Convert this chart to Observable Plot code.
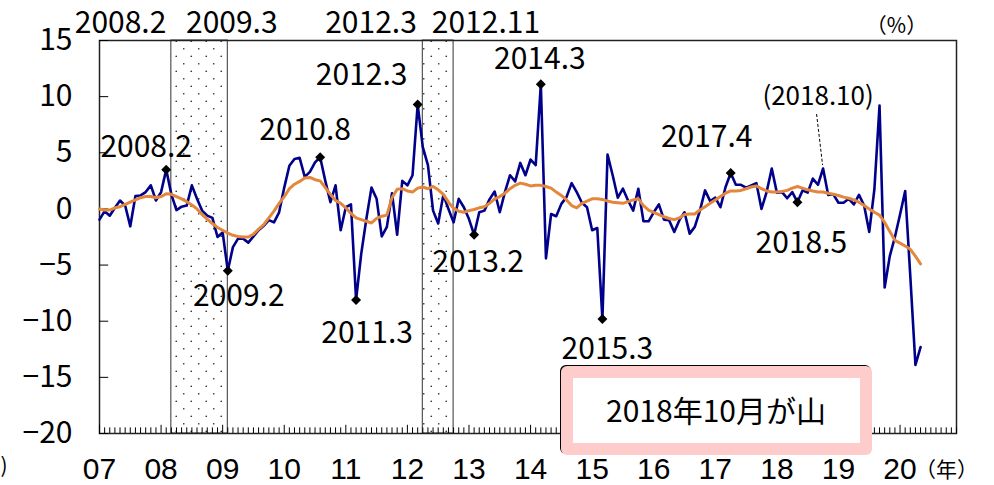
<!DOCTYPE html>
<html><head><meta charset="utf-8">
<script src="https://cdn.jsdelivr.net/npm/d3@7"></script>
<script src="https://cdn.jsdelivr.net/npm/@observablehq/plot@0.6"></script>
<style>html,body{margin:0;padding:0;background:#fff;}</style>
</head><body><div id="chart"></div>
<script>
// ---- data ----
const startYear = 2007;
// monthly series (Jan 2007 .. May 2020)
const monthly = [
 -0.95,-0.2,-0.6,0.1,0.75,0.3,-1.55,1.15,1.2,1.5,2.1,0.75,
 1.5,3.5,1.3,-0.1,0.2,0.3,2.1,0.9,-0.15,-0.6,-0.8,-2.5,
 -2.1,-5.5,-3.4,-2.65,-2.65,-3.0,-2.45,-1.9,-1.5,-1.0,-1.2,-0.3,
 1.9,3.85,4.45,4.55,2.85,3.3,4.15,4.6,2.5,0.6,2.1,-1.9,
 0.15,0.4,-8.1,-4.0,-0.9,1.9,0.9,-2.45,-1.6,1.4,-2.3,2.5,
 2.1,3.0,9.3,5.5,3.9,-0.15,-1.3,1.25,0.0,-1.2,0.9,0.15,
 -0.9,-2.3,-0.3,-0.15,0.85,1.55,-0.3,1.5,3.0,2.45,4.1,3.0,
 4.4,3.9,11.1,-4.4,-0.45,-0.65,0.45,1.05,2.3,1.5,0.55,0.15,
 -1.9,-1.7,-9.8,4.85,3.0,1.0,1.8,0.75,-0.15,1.8,-1.1,-1.1,
 -0.3,0.4,-0.95,-1.0,-2.05,-1.0,-0.3,-2.2,-1.6,-0.15,1.65,0.7,
 1.0,0.15,1.95,3.2,2.15,2.15,1.9,2.1,2.3,0.0,1.5,3.6,
 1.45,1.5,0.95,1.5,0.6,1.65,1.45,2.7,2.15,3.6,1.25,1.3,
 0.55,0.55,0.9,0.4,1.25,0.3,-2.05,1.75,9.2,-7.0,-4.2,-2.5,
 -0.5,1.6,-6.0,-13.9,-12.3
];
// moving-average series
const average = [
 0.0,-0.1,-0.1,0.1,0.2,0.4,0.6,0.8,1.0,1.1,1.1,1.0,
 1.1,1.35,1.3,1.1,0.9,0.65,0.35,0.0,-0.5,-0.9,-1.3,-1.65,
 -1.9,-2.15,-2.35,-2.45,-2.5,-2.5,-2.25,-1.8,-1.4,-0.8,-0.2,0.5,
 1.1,1.8,2.2,2.45,2.75,2.8,2.6,2.5,1.9,1.3,0.75,0.5,
 0.1,-0.4,-0.8,-0.95,-1.1,-1.25,-0.85,-0.65,-0.55,1.0,1.75,1.8,
 1.6,1.5,1.85,1.95,1.8,2.0,1.7,1.3,0.6,0.05,-0.2,-0.3,
 -0.15,-0.05,0.1,0.2,0.5,0.9,1.1,1.4,1.8,2.1,2.3,2.2,
 2.05,2.1,2.1,2.0,1.85,1.5,1.2,0.8,0.3,0.1,0.5,0.7,
 0.9,0.9,0.85,0.7,0.6,0.55,0.5,0.65,0.8,0.9,0.3,-0.1,
 -0.3,-0.5,-0.7,-0.85,-0.95,-0.8,-0.5,-0.45,-0.45,-0.1,0.2,0.5,
 0.8,1.1,1.4,1.6,1.6,1.65,1.8,1.95,2.05,1.8,1.6,1.5,
 1.5,1.55,1.65,1.85,2.0,1.85,1.7,1.6,1.5,1.5,1.4,1.3,
 1.2,1.05,0.95,0.8,0.6,0.3,0.0,-0.3,-0.55,-1.2,-2.0,-2.8,
 -3.05,-3.3,-3.6,-4.2,-4.9
];
const markerDates = ["2008.2","2009.2","2010.8","2011.3","2012.3","2013.2","2014.3","2015.3","2017.4","2018.5"];
const peakDates   = ["2008.2","2012.3"];
const troughDates = ["2009.3","2012.11"];
const noteDate = "2018.10";
const yearLabels = ["07","08","09","10","11","12","13","14","15","16","17","18","19","20"];
const yTicks = [15,10,5,0,-5,-10,-15,-20];
const boxText = "2018年10月が山";
const unitY = "（%）";
const unitX = "（年）";

// ---- helpers ----
const toIdx = s => { const [y, m] = s.split(".").map(Number); return (y - startYear) * 12 + m - 1; };
const fmt = d => d < 0 ? "\u2212" + (-d) : String(d);
const series = monthly.map((v, i) => ({i, v}));
const avgSeries = average.map((v, i) => ({i, v}));
const markers = markerDates.map(s => ({i: toIdx(s), v: monthly[toIdx(s)], label: s}));
const bands = peakDates.map((p, k) => ({a: toIdx(p) + 1, b: toIdx(troughDates[k]) - 1, peak: p, trough: troughDates[k]}));
const years = yearLabels.map((t, k) => ({i: k * 12, t}));
const months = d3.range(0, 168);
const noteIdx = toIdx(noteDate);
const note = [{i: noteIdx, v: monthly[noteIdx], label: "(" + noteDate + ")"}];

// label layout (offsets in px)
const labelOffsets = [[-20,-22],[11,26],[-15,-27],[11,34],[-56,-29],[4,28],[-1,-25],[5,30],[-24,-36],[4,41]];

const FONT = "'Noto Sans CJK JP', 'Noto Sans', sans-serif";
const LATIN = "'Liberation Sans', Arial, sans-serif";
const NAVY = "#00008a", ORANGE = "#e3873d";

const markLabels = markers.map((m, k) => Plot.text([m], {
  x: "i", y: "v", text: "label", dx: labelOffsets[k][0], dy: labelOffsets[k][1],
  lineAnchor: "middle", fontSize: 30, fill: "#000"
}));

const topLabels = [
  Plot.text([bands[0]], {x: "a", text: "peak", frameAnchor: "top", textAnchor: "end", dx: -5, dy: -17, lineAnchor: "middle"}),
  Plot.text([bands[0]], {x: "b", text: "trough", frameAnchor: "top", textAnchor: "middle", dx: 4, dy: -17, lineAnchor: "middle"}),
  Plot.text([bands[1]], {x: "a", text: "peak", frameAnchor: "top", textAnchor: "end", dx: -6, dy: -17, lineAnchor: "middle"}),
  Plot.text([bands[1]], {x: "a", text: "trough", frameAnchor: "top", textAnchor: "start", dx: 9, dy: -17, lineAnchor: "middle"})
];

const chart = Plot.plot({
  width: 994, height: 485,
  marginLeft: 99, marginRight: 38, marginTop: 40, marginBottom: 52,
  x: {domain: [0, 167], axis: null},
  y: {domain: [-20, 15], axis: null},
  style: {fontFamily: FONT, fontSize: "30px", background: "#fff", overflow: "visible", color: "#000"},
  marks: [
    Plot.rect(bands, {x1: "a", x2: "b", y1: -20, y2: 15, fill: "url(#dots)", stroke: "#333", strokeWidth: 1}),
    Plot.frame({stroke: "#222", strokeWidth: 1.5}),
    Plot.ruleY(yTicks, {y: d => d, x1: 0, x2: 1.8, stroke: "#000", strokeWidth: 1}),
    Plot.ruleX(months, {x: d => d, y1: -20, y2: d => d % 12 === 0 ? -19.27 : -19.5, stroke: "#000", strokeWidth: 1}),
    Plot.line(series, {x: "i", y: "v", stroke: NAVY, strokeWidth: 2.6}),
    Plot.line(avgSeries, {x: "i", y: "v", stroke: ORANGE, strokeWidth: 3}),
    Plot.dot(markers, {x: "i", y: "v", symbol: "diamond2", r: 4.5, fill: "#000", stroke: "none"}),
    ...markLabels,
    ...topLabels,
    Plot.text(note, {x: "i", y: "v", text: "label", dx: -5, dy: -72, lineAnchor: "middle", fontSize: 26}),
    Plot.text(yTicks, {y: d => d, text: fmt, frameAnchor: "left", textAnchor: "end", dx: -27, lineAnchor: "middle"}),
    Plot.text(years, {x: "i", text: "t", frameAnchor: "bottom", dy: 35.5, lineAnchor: "middle", fontFamily: LATIN, fontSize: 30}),
    Plot.text([unitX], {x: 156, text: d => d, frameAnchor: "bottom", textAnchor: "start", dx: 15, dy: 37, lineAnchor: "middle", fontSize: 21}),
    Plot.text([unitY], {frameAnchor: "top-right", textAnchor: "middle", dx: -60, dy: -14, lineAnchor: "middle", fontSize: 21}),
    Plot.text([")"], {frameAnchor: "bottom-left", textAnchor: "start", dx: -99, dy: 33, lineAnchor: "middle", fontSize: 21})
  ]
});
document.getElementById("chart").appendChild(chart);

const svg = d3.select(chart);
const defs = svg.insert("defs", ":first-child");
const pat = defs.append("pattern").attr("id", "dots").attr("patternUnits", "userSpaceOnUse")
  .attr("width", 15).attr("height", 15);
pat.append("circle").attr("cx", 3.75).attr("cy", 3.75).attr("r", 0.85).attr("fill", "#333");
pat.append("circle").attr("cx", 11.25).attr("cy", 11.25).attr("r", 0.85).attr("fill", "#333");

// leader line for the (2018.10) note
const sx = chart.scale("x"), sy = chart.scale("y");
const px = sx.apply(noteIdx), py = sy.apply(monthly[noteIdx]);
svg.append("line").attr("x1", px - 6).attr("y1", py - 54).attr("x2", px).attr("y2", py - 3)
  .attr("stroke", "#000").attr("stroke-width", 1).attr("stroke-dasharray", "3,2");

// annotation box
const box = svg.append("g");
box.append("rect").attr("x", 560).attr("y", 365).attr("width", 311).attr("height", 89).attr("rx", 6)
  .attr("fill", "#000");
box.append("rect").attr("x", 561).attr("y", 366).attr("width", 311).attr("height", 89).attr("rx", 6)
  .attr("fill", "#ffcccc");
box.append("rect").attr("x", 573).attr("y", 378).attr("width", 287).attr("height", 65)
  .attr("fill", "#fff");
box.append("text").attr("x", 716).attr("y", 411.5).attr("dy", "0.35em").attr("text-anchor", "middle")
  .attr("font-size", 30).attr("font-family", FONT).attr("fill", "#000").text(boxText);
</script>
</body></html>
